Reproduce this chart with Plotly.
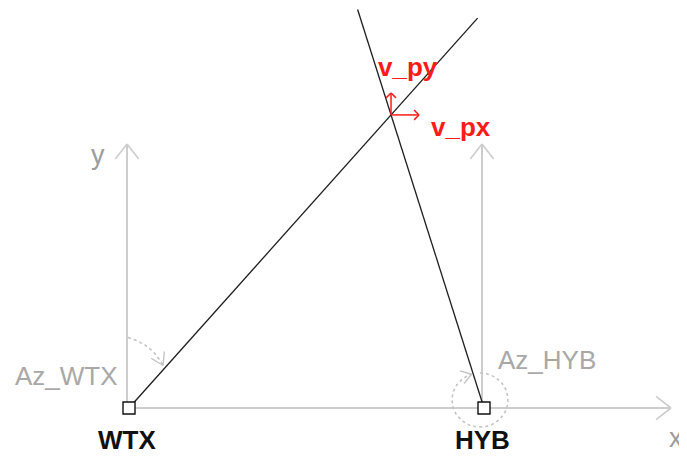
import math
import plotly.graph_objects as go

# stations (pixel-like diagram units, y grows downward)
stations = ["WTX", "HYB"]
station_x = [129, 484]
station_y = [408, 408]
azimuths = [41.8, 342.4]        # degrees clockwise from north (y axis)
ray_lengths = [523, 418]
azimuth_labels = ["Az_WTX", "Az_HYB"]
velocity_labels = ["v_px", "v_py"]
velocity_lengths = [28, 22]

AXIS_GRAY = "#cdcdcd"
TEXT_GRAY = "#a8a8a8"
LINE_BLACK = "#1e1e1e"
RED = "#ff1a1a"
FONT = "Liberation Sans"


def chevron(tx, ty, dx, dy, size, half_angle=38):
    """Open arrowhead (two strokes) at tip (tx,ty) for direction (dx,dy)."""
    ang = math.atan2(dy, dx)
    pts_x, pts_y = [], []
    for s in (1, -1):
        a = ang + math.pi + s * math.radians(half_angle)
        pts_x += [tx + size * math.cos(a), tx, None]
        pts_y += [ty + size * math.sin(a), ty, None]
    return pts_x, pts_y


def line(fig, xs, ys, color, width, dash="solid"):
    fig.add_trace(go.Scatter(x=xs, y=ys, mode="lines", hoverinfo="skip",
                             line=dict(color=color, width=width, dash=dash)))


fig = go.Figure()

# local frames: x axis from WTX, y axis at each station
line(fig, [station_x[0] - 2, 671], [station_y[0], station_y[0]], AXIS_GRAY, 2)
hx, hy = chevron(671, station_y[0], 1, 0, 19)
line(fig, hx, hy, AXIS_GRAY, 1.6)
for sx, sy in zip(station_x, station_y):
    ax_x = sx - 2
    line(fig, [ax_x, ax_x], [sy, 144], AXIS_GRAY, 2)
    hx, hy = chevron(ax_x, 144, 0, -1, 19)
    line(fig, hx, hy, AXIS_GRAY, 1.6)

# azimuth arcs
# WTX: short arc from north toward the ray
cx, cy, r = 115, 390, 54
th = [math.radians(76 - i * (76 - 27) / 40) for i in range(41)]
line(fig, [cx + r * math.cos(t) for t in th], [cy - r * math.sin(t) for t in th],
     "#c4c4c4", 1.6, "dot")
t_end = th[-1]
hx, hy = chevron(cx + r * math.cos(t_end), cy - r * math.sin(t_end),
                 math.sin(t_end), math.cos(t_end), 14, 32)
line(fig, hx, hy, "#c4c4c4", 1.4)

# HYB: almost full circle clockwise to the ray
cx, cy, rx, ry = 480, 400, 28, 27
az = [math.radians(i * azimuths[1] / 80) for i in range(81)]
line(fig, [cx + rx * math.sin(a) for a in az], [cy - ry * math.cos(a) for a in az],
     "#c4c4c4", 1.6, "dot")
a_end = az[-1]
hx, hy = chevron(cx + rx * math.sin(a_end), cy - ry * math.cos(a_end),
                 math.cos(a_end), math.sin(a_end), 12, 34)
line(fig, hx, hy, "#c4c4c4", 1.4)

# bearing rays
ends = []
for sx, sy, a, L in zip(station_x, station_y, azimuths, ray_lengths):
    ex = sx + L * math.sin(math.radians(a))
    ey = sy - L * math.cos(math.radians(a))
    ends.append((ex, ey))
    line(fig, [sx, ex], [sy, ey], LINE_BLACK, 1.3)

# intersection of the two rays
(x1, y1), (x2, y2) = (station_x[0], station_y[0]), ends[0]
(x3, y3), (x4, y4) = (station_x[1], station_y[1]), ends[1]
den = (x1 - x2) * (y3 - y4) - (y1 - y2) * (x3 - x4)
t = ((x1 - x3) * (y3 - y4) - (y1 - y3) * (x3 - x4)) / den
px, py = x1 + t * (x2 - x1), y1 + t * (y2 - y1)

# velocity components
vx_end = (px + velocity_lengths[0], py)
vy_end = (px, py - velocity_lengths[1])
line(fig, [px, vx_end[0]], [py, vx_end[1]], RED, 1.5)
line(fig, [px, vy_end[0]], [py, vy_end[1]], RED, 1.5)
hx, hy = chevron(vx_end[0], vx_end[1], 1, 0, 7, 45)
line(fig, hx, hy, RED, 1.5)
hx, hy = chevron(vy_end[0], vy_end[1], 0, -1, 7, 45)
line(fig, hx, hy, RED, 1.5)

# station markers
fig.add_trace(go.Scatter(
    x=station_x, y=station_y, mode="markers", hoverinfo="skip",
    marker=dict(symbol="square", size=12, color="white",
                line=dict(color="#111111", width=1.4)),
))

# labels
def label(text, x, y, color, size, bold=False):
    fig.add_annotation(x=x, y=y, text=f"<b>{text}</b>" if bold else text,
                       showarrow=False, xanchor="center", yanchor="middle",
                       font=dict(family=FONT, size=size, color=color))

for name, sx, sy in zip(stations, station_x, station_y):
    label(name, sx - 2, sy + 32, "#111111", 26, bold=True)
label(azimuth_labels[0], 66, 376, TEXT_GRAY, 26)
label(azimuth_labels[1], 547, 360, TEXT_GRAY, 26)
label("y", 98, 155, "#9c9c9c", 27)
label("x", 676, 438, "#9c9c9c", 27)
label(velocity_labels[1], px + 17, py - 48, RED, 26, bold=True)
label(velocity_labels[0], px + 70, py + 12, RED, 26, bold=True)

# the page body adds an 8px margin, so the figure is shrunk by that much
fig.update_layout(
    width=679, height=449,
    margin=dict(l=0, r=0, t=0, b=0),
    paper_bgcolor="white", plot_bgcolor="white",
    showlegend=False,
    xaxis=dict(range=[8, 687], visible=False, fixedrange=True),
    yaxis=dict(range=[457, 8], visible=False, fixedrange=True),
)

fig.write_html("out.html")
